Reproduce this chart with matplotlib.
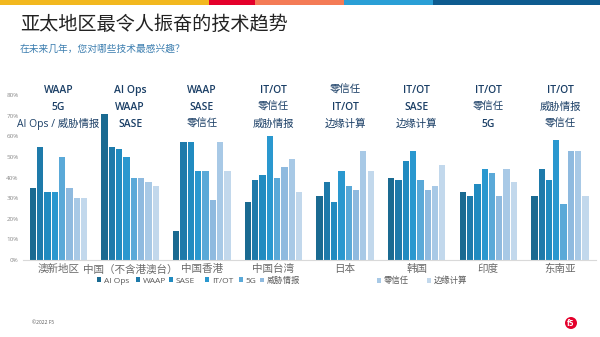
import matplotlib
matplotlib.use("Agg")
import matplotlib.pyplot as plt
import numpy as np
from matplotlib.patches import Rectangle, Ellipse

CJK = ['Noto Sans CJK SC', 'DejaVu Sans']
LAT = ['Open Sans', 'Noto Sans CJK SC']
plt.rcParams['font.family'] = CJK

regions = ["澳新地区", "中国（不含港澳台）", "中国香港", "中国台湾", "日本", "韩国", "印度", "东南亚"]
series = ["AI Ops", "WAAP", "SASE", "IT/OT", "5G", "威胁情报", "零信任", "边缘计算"]
ai_ops = [35, 71, 14, 28, 31, 40, 33, 31]
waap = [55, 55, 57, 39, 38, 39, 31, 44]
sase = [33, 54, 57, 41, 28, 48, 37, 39]
itot = [33, 50, 43, 60, 43, 53, 44, 58]
fiveg = [50, 40, 43, 40, 36, 39, 42, 27]
threat = [35, 40, 29, 45, 34, 34, 31, 53]
zerotrust = [30, 38, 57, 49, 53, 36, 44, 53]
edge = [30, 36, 43, 33, 43, 46, 38, 31]
top3 = [
    ["WAAP", "5G", "AI Ops / 威胁情报"],
    ["AI Ops", "WAAP", "SASE"],
    ["WAAP", "SASE", "零信任"],
    ["IT/OT", "零信任", "威胁情报"],
    ["零信任", "IT/OT", "边缘计算"],
    ["IT/OT", "SASE", "边缘计算"],
    ["IT/OT", "零信任", "5G"],
    ["IT/OT", "威胁情报", "零信任"],
]
yticks = [0, 10, 20, 30, 40, 50, 60, 70, 80]

values = [ai_ops, waap, sase, itot, fiveg, threat, zerotrust, edge]
colors = ["#1a6a91", "#1e7aaa", "#218bc0", "#2a98cf", "#5aa9d8", "#8fbadf", "#a8c9e6", "#c2d8ec"]

fig = plt.figure(figsize=(6.0, 3.37), dpi=100)

# top color strip
strip = [(0, 209, "#f2b81f"), (209, 255, "#e4002b"), (255, 344, "#f47b56"),
         (344, 433, "#2a9fd6"), (433, 600, "#0e5b8f")]
for x0, x1, c in strip:
    fig.patches.append(Rectangle((x0 / 600, 1 - 4.5 / 337), (x1 - x0) / 600, 4.5 / 337,
                                 transform=fig.transFigure, color=c, lw=0))

fig.text(20 / 600, 1 - 24 / 337, "亚太地区最令人振奋的技术趋势", fontsize=13.8,
         color="#222222", va="center", ha="left", family=CJK)
fig.text(20 / 600, 1 - 49 / 337, "在未来几年，您对哪些技术最感兴趣？", fontsize=7,
         color="#3d7fb0", va="center", ha="left", family=CJK)

ax = fig.add_axes([22.7 / 600, 77 / 337, (595.8 - 22.7) / 600, 165 / 337])
x = np.arange(len(regions))
slot = 0.102
bw = slot * 0.86
for i, (name, vals, c) in enumerate(zip(series, values, colors)):
    ax.bar(x + (i - 3.5) * slot, vals, width=bw, color=c, label=name, zorder=2)

ax.set_xlim(-0.5, len(regions) - 0.5)
ax.set_ylim(0, 80)
ax.set_yticks(yticks)
ax.set_yticklabels([f"{t}%" for t in yticks], fontsize=4.5, color="#8a8a8a", family=LAT)
ax.set_xticks(x)
ax.set_xticklabels(regions, fontsize=7.6, color="#6a6a6a", family=CJK)
ax.tick_params(axis='both', length=0)
ax.tick_params(axis='x', pad=3)
ax.tick_params(axis='y', pad=3)
for s in ["top", "right", "left"]:
    ax.spines[s].set_visible(False)
ax.spines["bottom"].set_color("#d9d9d9")
ax.spines["bottom"].set_linewidth(0.8)


def has_cjk(s):
    return any(ord(ch) > 0x2E80 for ch in s)


trans = ax.get_xaxis_transform()
line_y = [90, 107, 124]
for xi, lines in zip(x, top3):
    for ly, t in zip(line_y, lines):
        yfrac = (260 - ly) / 165
        ax.text(xi, yfrac, t, transform=trans, ha="center", va="center",
                fontsize=7.5, color="#1b3f66",
                fontweight="normal" if has_cjk(t) else "semibold",
                family=LAT, clip_on=False)

# legend entries positioned like the reference
handles, labels = ax.get_legend_handles_labels()
leg_x = [97, 136, 169, 205, 239, 260, 377, 427]
for h, l, lx in zip(handles, labels, leg_x):
    lg = fig.legend([h], [l], loc="center left", bbox_to_anchor=(lx / 600, 1 - 281 / 337),
                    frameon=False, handlelength=0.5, handleheight=0.5,
                    handletextpad=0.3, borderpad=0, borderaxespad=0,
                    prop={'family': LAT, 'size': 6})
    for t in lg.get_texts():
        t.set_color("#595959")

fig.text(32 / 600, 1 - 322 / 337, "©2022 F5", fontsize=3.5, color="#555555", va="center", family=LAT)
fig.patches.append(Ellipse((571 / 600, 1 - 323 / 337), 12 / 600, 12 / 337, transform=fig.transFigure,
                           color="#e4002b", lw=0))
fig.text(571 / 600, 1 - 323 / 337, "f5", fontsize=5.5, color="white", fontweight="bold",
         ha="center", va="center", family=LAT)

fig.savefig("out.png", dpi=100)
